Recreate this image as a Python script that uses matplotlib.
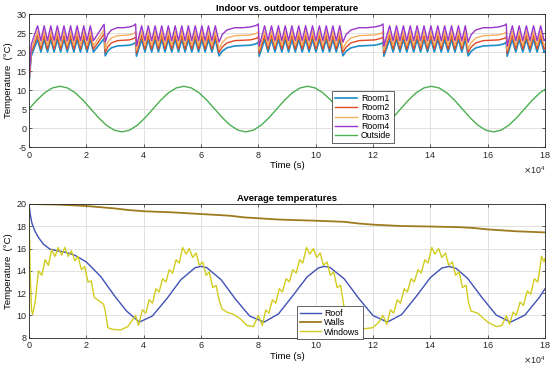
import numpy as np
import matplotlib
matplotlib.use('Agg')
import matplotlib.pyplot as plt
from matplotlib.ticker import ScalarFormatter

plt.rcParams['font.family'] = ['Liberation Sans', 'DejaVu Sans']
plt.rcParams['axes.unicode_minus'] = False

# ---- top panel data (time in units of 1e4 s) ----
# times of the heating peaks in each burst
burst_peaks = [
    [0.30, 0.53, 0.76, 0.99, 1.22, 1.45, 1.68, 1.91, 2.14],
    [3.93, 4.16, 4.40, 4.63, 4.86, 5.10, 5.33, 5.56, 5.80, 6.03, 6.26, 6.50],
    [8.22, 8.46, 8.70, 8.94, 9.17, 9.41, 9.65, 9.89, 10.13, 10.37, 10.60, 10.84],
    [12.58, 12.82, 13.06, 13.30, 13.54, 13.78, 14.02, 14.26, 14.50, 14.74, 14.98, 15.22],
    [16.86, 17.10, 17.35, 17.60, 17.85],
]
# quiet periods (start, end)
calm = [(2.66, 3.72), (6.63, 8.00), (10.95, 12.35), (15.32, 16.65)]
calm_frac = [0, 0.08, 0.2, 0.4, 0.6, 0.8, 0.95, 1.0]

room_names = ['Room1', 'Room2', 'Room3', 'Room4']
room_colors = ['#1f8dc8', '#e04a24', '#f5b060', '#9a36c9']
room_start = [11.5, 12.0, 12.4, 12.9]
room_early = [19.0, 19.8, 20.6, 22.0]
room_hi = [23.3, 24.4, 25.5, 26.9]
room_lo = [20.0, 20.8, 21.7, 23.0]
room_extra = [23.6, 24.8, 25.9, 27.3]
room_drop = [18.9, 19.7, 20.5, 21.6]
room_calm = [
    [19.0, 20.2, 21.1, 21.6, 21.7, 21.8, 22.2, 22.6],
    [19.9, 21.3, 22.4, 23.0, 23.1, 23.2, 23.6, 24.0],
    [20.8, 22.5, 23.7, 24.3, 24.4, 24.5, 24.9, 25.3],
    [22.6, 24.6, 25.8, 26.4, 26.4, 26.6, 27.0, 27.4],
]

outside_t = [i * 0.27 for i in range(67)] + [18.0]
outside = [5.0, 7.3, 9.24, 10.54, 11.0, 10.54, 9.24, 7.3, 5.0, 2.7, 0.76, -0.54, -1.0, -0.54, 0.76, 2.7,
           5.0, 7.3, 9.24, 10.54, 11.0, 10.54, 9.24, 7.3, 5.0, 2.7, 0.76, -0.54, -1.0, -0.54, 0.76, 2.7,
           5.0, 7.3, 9.24, 10.54, 11.0, 10.54, 9.24, 7.3, 5.0, 2.7, 0.76, -0.54, -1.0, -0.54, 0.76, 2.7,
           5.0, 7.3, 9.24, 10.54, 11.0, 10.54, 9.24, 7.3, 5.0, 2.7, 0.76, -0.54, -1.0, -0.54, 0.76, 2.7,
           5.0, 7.3, 9.24, 10.2]

# ---- bottom panel data ----
roof_t = [0, 0.05, 0.1, 0.2, 0.33, 0.5, 0.73, 1.0, 1.3, 1.6, 2.0, 2.5, 3.0, 3.4, 3.85, 4.3, 4.8,
          5.3, 5.8, 6.0, 6.2, 6.7, 7.2, 7.7, 8.2, 8.7, 9.2, 9.7, 10.1, 10.3, 10.5, 11.0, 11.5,
          12.0, 12.5, 13.0, 13.5, 14.0, 14.4, 14.65, 14.9, 15.3, 15.8, 16.3, 16.8, 17.3, 17.8, 18.0]
roof = [20.0, 19.0, 18.3, 17.6, 17.0, 16.4, 15.95, 15.8, 15.65, 15.4, 14.8, 13.5, 11.7, 10.4, 9.4, 9.94, 11.47,
        13.21, 14.29, 14.4, 14.29, 13.21, 11.47, 9.94, 9.4, 10.13, 11.76, 13.45, 14.27, 14.4, 14.31, 13.27, 11.54,
        9.99, 9.4, 10.08, 11.68, 13.39, 14.25, 14.4, 14.22, 13.33, 11.61, 10.03, 9.4, 10.03, 11.61, 12.4]

walls_t = [0, 1, 2, 3, 3.5, 4, 5, 6, 7, 7.5, 8, 8.6, 9, 10, 11, 11.5, 12, 13, 14, 15, 15.5, 16, 17, 18]
walls = [20.0, 19.95, 19.82, 19.6, 19.45, 19.35, 19.25, 19.1, 18.95, 18.8, 18.72, 18.62, 18.58, 18.5,
         18.4, 18.25, 18.15, 18.02, 17.98, 17.92, 17.85, 17.72, 17.55, 17.45]

windows_t = [0, 0.04, 0.09, 0.13, 0.22, 0.33, 0.45, 0.56, 0.68, 0.79, 0.91, 1.02, 1.14, 1.25, 1.37, 1.48,
             1.60, 1.71, 1.83, 1.94, 2.06, 2.17, 2.28, 2.45, 2.60, 2.66, 2.75, 2.9, 3.2, 3.45, 3.72,
             3.82, 3.96, 4.08, 4.19, 4.31, 4.43, 4.54, 4.66, 4.78, 4.89, 5.01, 5.13, 5.24, 5.36, 5.48,
             5.59, 5.71, 5.83, 5.94, 6.06, 6.18, 6.29, 6.41, 6.53, 6.63, 6.73, 6.9, 7.13, 7.37, 7.6, 7.83, 8.0,
             8.14, 8.26, 8.37, 8.49, 8.61, 8.73, 8.84, 8.97, 9.08, 9.20, 9.32, 9.44, 9.55, 9.68, 9.80,
             9.92, 10.04, 10.16, 10.27, 10.40, 10.51, 10.63, 10.75, 10.87, 10.95, 11.02, 11.15, 11.35,
             11.7, 12.0, 12.2, 12.35,
             12.48, 12.61, 12.72, 12.85, 12.96, 13.09, 13.20, 13.33, 13.44, 13.57, 13.68, 13.81, 13.92,
             14.05, 14.16, 14.29, 14.40, 14.53, 14.64, 14.77, 14.88, 15.01, 15.12, 15.25, 15.33,
             15.42, 15.65, 16.0, 16.3, 16.5, 16.65,
             16.76, 16.89, 17.0, 17.13, 17.25, 17.38, 17.50, 17.63, 17.75, 17.88, 17.97, 18.0]
windows = [20.0, 14.0, 10.4, 10.1, 11.3, 14.0, 13.6, 15.0, 14.5, 15.9, 15.3, 16.1, 15.4, 16.1, 15.3, 15.8,
           14.9, 15.3, 14.1, 14.4, 13.0, 13.1, 11.6, 11.3, 11.0, 10.4, 8.9, 8.75, 8.7, 9.0, 10.0,
           9.1, 10.5, 10.2, 11.4, 11.1, 12.4, 12.1, 13.3, 13.0, 14.1, 13.8, 15.0, 14.7, 16.1, 15.5,
           16.0, 15.2, 15.6, 14.5, 14.8, 13.6, 13.9, 12.5, 12.7, 11.4, 10.6, 10.3, 10.1, 9.7, 9.1, 9.0, 10.0,
           9.1, 10.5, 10.2, 11.4, 11.1, 12.4, 12.1, 13.3, 13.0, 14.1, 13.8, 15.0, 14.7, 16.1, 15.5,
           16.0, 15.2, 15.6, 14.5, 14.8, 13.6, 13.9, 12.5, 12.7, 11.4, 10.3, 9.4, 8.9,
           8.8, 8.9, 9.4, 10.0,
           9.2, 10.5, 10.2, 11.4, 11.1, 12.4, 12.1, 13.3, 13.0, 14.1, 13.8, 15.0, 14.7,
           16.1, 15.5, 16.0, 15.2, 15.6, 14.5, 14.8, 13.6, 13.9, 12.5, 12.7, 11.2,
           10.4, 10.2, 9.4, 9.0, 9.1, 10.0,
           9.2, 10.3, 10.0, 11.2, 10.9, 12.2, 11.9, 13.3, 13.0, 15.3, 14.8, 15.1]


def build_room(k):
    t = [0.0, 0.08]
    v = [room_start[k], room_early[k]]
    for i, peaks in enumerate(burst_peaks):
        if i > 0:
            t.append(calm[i - 1][1] + 0.03)
            v.append(room_drop[k])
        for j, tp in enumerate(peaks):
            if j > 0:
                t.append((peaks[j - 1] + tp) / 2)
                v.append(room_lo[k])
            t.append(tp)
            v.append(room_hi[k])
        if i == 0:
            t += [2.25, 2.62]
            v += [room_lo[k], room_extra[k]]
        if i < len(calm):
            a, b = calm[i]
            for f, val in zip(calm_frac, room_calm[k]):
                t.append(a + f * (b - a))
                v.append(val)
        else:
            t += [17.97, 18.0]
            v += [room_lo[k], room_lo[k] + 0.2]
    return np.array(t) * 1e4, np.array(v)


def style(ax, ylim, yticks):
    ax.set_xlim(0, 18e4)
    ax.set_ylim(*ylim)
    ax.set_yticks(yticks)
    ax.set_xticks(np.arange(0, 18.1, 2) * 1e4)
    fmt = ScalarFormatter(useMathText=True)
    fmt.set_powerlimits((4, 4))
    ax.xaxis.set_major_formatter(fmt)
    ax.xaxis.get_offset_text().set_fontsize(6.3)
    ax.xaxis.get_offset_text().set_color('#262626')
    ax.grid(True, color='#dcdcdc', linewidth=0.6)
    ax.set_axisbelow(True)
    ax.tick_params(direction='in', length=2.5, width=0.5, labelsize=6.5, colors='#262626',
                   top=True, right=True, pad=2)
    for s in ax.spines.values():
        s.set_color('#262626')
        s.set_linewidth(0.6)
    ax.set_xlabel('Time (s)', fontsize=6.8, labelpad=1)
    ax.set_ylabel('Temperature  (°C)', fontsize=6.8, labelpad=2)


fig = plt.figure(figsize=(5.5, 3.65), dpi=100)
ax1 = fig.add_axes([0.0527, 0.597, 0.9382, 0.3646])
ax2 = fig.add_axes([0.0527, 0.0748, 0.9382, 0.3663])

for k in range(4):
    tt, vv = build_room(k)
    ax1.plot(tt, vv, color=room_colors[k], lw=1.2 if k == 0 else 1.0, label=room_names[k])
ax1.plot(np.array(outside_t) * 1e4, outside, color='#4caf50', lw=1.0, label='Outside')
style(ax1, (-5, 30), np.arange(-5, 31, 5))
ax1.set_title('Indoor vs. outdoor temperature', fontsize=6.8, fontweight='bold', pad=2)
leg1 = ax1.legend(loc='upper left', bbox_to_anchor=(0.587, 0.421), borderaxespad=0,
                  fontsize=6.3, labelspacing=0.05, handlelength=2.6, handletextpad=0.4,
                  borderpad=0.3, fancybox=False, framealpha=1)
leg1.get_frame().set_edgecolor('#262626')
leg1.get_frame().set_linewidth(0.5)

ax2.plot(np.array(roof_t) * 1e4, roof, color='#3f51b5', lw=1.0, label='Roof')
ax2.plot(np.array(walls_t) * 1e4, walls, color='#9e7a1e', lw=1.3, label='Walls')
ax2.plot(np.array(windows_t) * 1e4, windows, color='#d2cc20', lw=1.0, label='Windows')
style(ax2, (8, 20), np.arange(8, 21, 2))
ax2.set_title('Average temperatures', fontsize=6.8, fontweight='bold', pad=2)
leg2 = ax2.legend(loc='upper left', bbox_to_anchor=(0.52, 0.237), borderaxespad=0,
                  fontsize=6.3, labelspacing=0.05, handlelength=2.4, handletextpad=0.4,
                  borderpad=0.3, fancybox=False, framealpha=1)
leg2.get_frame().set_edgecolor('#262626')
leg2.get_frame().set_linewidth(0.5)

fig.savefig('out.png', dpi=100)
